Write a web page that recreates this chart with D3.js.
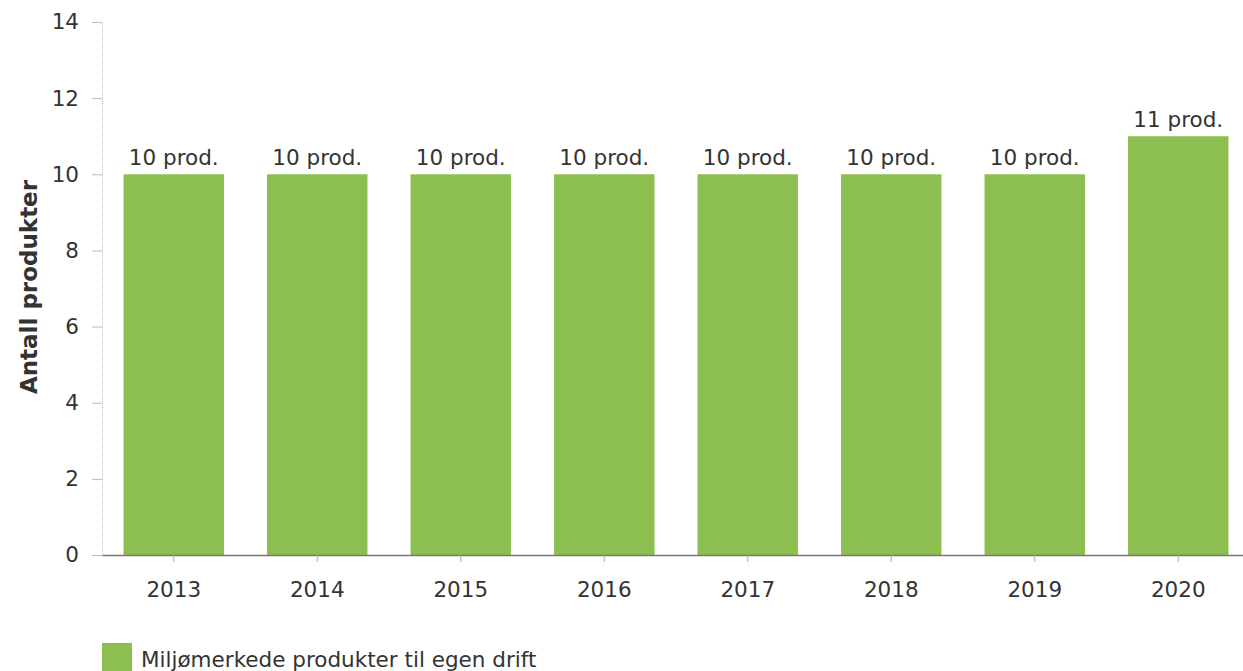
<!DOCTYPE html>
<html>
<head>
<meta charset="utf-8">
<script src="https://d3js.org/d3.v7.min.js"></script>
<style>
  body { margin: 0; background: #fff; }
  svg, svg text { font-family: "DejaVu Sans", Verdana, sans-serif; }
</style>
</head>
<body>
<div class="chart"></div>
<script>
// chart data
var years = ["2013", "2014", "2015", "2016", "2017", "2018", "2019", "2020"];
var products = [10, 10, 10, 10, 10, 10, 10, 11];
var barLabels = ["10 prod.", "10 prod.", "10 prod.", "10 prod.", "10 prod.", "10 prod.", "10 prod.", "11 prod."];
var yTicks = [0, 2, 4, 6, 8, 10, 12, 14];
var legendText = "Miljømerkede produkter til egen drift";

var width = 1243, height = 671;
var green = "#8cbf4f";
var textColor = "#333";
var fontSize = "21.5px";

var svg = d3.select(".chart")
            .append("svg")
            .attr("width", width)
            .attr("height", height);

var x = d3.scaleBand()
          .domain(years)
          .range([102, 1250])
          .paddingInner(0.3)
          .paddingOuter(0.15);

var y = d3.scaleLinear()
          .domain([0, 14])
          .range([555, 22]);

// y axis (light dotted line)
var yAxis = svg.append("g")
   .attr("transform", "translate(102,0)")
   .attr("font-family", null)
   .call(d3.axisLeft(y).tickValues(yTicks).tickSize(10).tickPadding(13));
yAxis.select(".domain").attr("stroke", "#bbb").attr("stroke-dasharray", "1,1");
yAxis.selectAll(".tick line").attr("stroke", "#bbb");
yAxis.selectAll(".tick text")
     .style("font-size", fontSize)
     .attr("fill", textColor);

// bars
svg.selectAll("rect.bar")
   .data(products)
   .enter()
   .append("rect")
   .attr("class", "bar")
   .attr("x", function(d, i) { return x(years[i]); })
   .attr("y", function(d) { return y(d); })
   .attr("width", x.bandwidth())
   .attr("height", function(d) { return y(0) - y(d); })
   .attr("fill", green);

// value labels
svg.selectAll("text.val")
   .data(products)
   .enter()
   .append("text")
   .attr("class", "val")
   .attr("x", function(d, i) { return x(years[i]) + x.bandwidth() / 2; })
   .attr("y", function(d) { return y(d) - 9; })
   .attr("text-anchor", "middle")
   .style("font-size", fontSize)
   .attr("fill", textColor)
   .text(function(d, i) { return barLabels[i]; });

// x axis
var xAxis = svg.append("g")
   .attr("transform", "translate(0," + y(0) + ")")
   .attr("font-family", null)
   .call(d3.axisBottom(x).tickSize(7).tickPadding(20).tickSizeOuter(0));
xAxis.select(".domain").attr("stroke", "#777").attr("stroke-width", 1.5);
xAxis.selectAll(".tick line").attr("stroke", "#aaa");
xAxis.selectAll(".tick text")
     .style("font-size", fontSize)
     .attr("fill", textColor);

// y label
svg.append("text")
   .attr("transform", "translate(37,287) rotate(-90)")
   .attr("text-anchor", "middle")
   .style("font-size", "23px")
   .style("font-weight", "bold")
   .attr("fill", textColor)
   .text("Antall produkter");

// legend
svg.append("rect")
   .attr("x", 102)
   .attr("y", 643)
   .attr("width", 30)
   .attr("height", 28)
   .attr("fill", green);

svg.append("text")
   .attr("x", 141)
   .attr("y", 667)
   .style("font-size", fontSize)
   .attr("fill", textColor)
   .text(legendText);
</script>
</body>
</html>
